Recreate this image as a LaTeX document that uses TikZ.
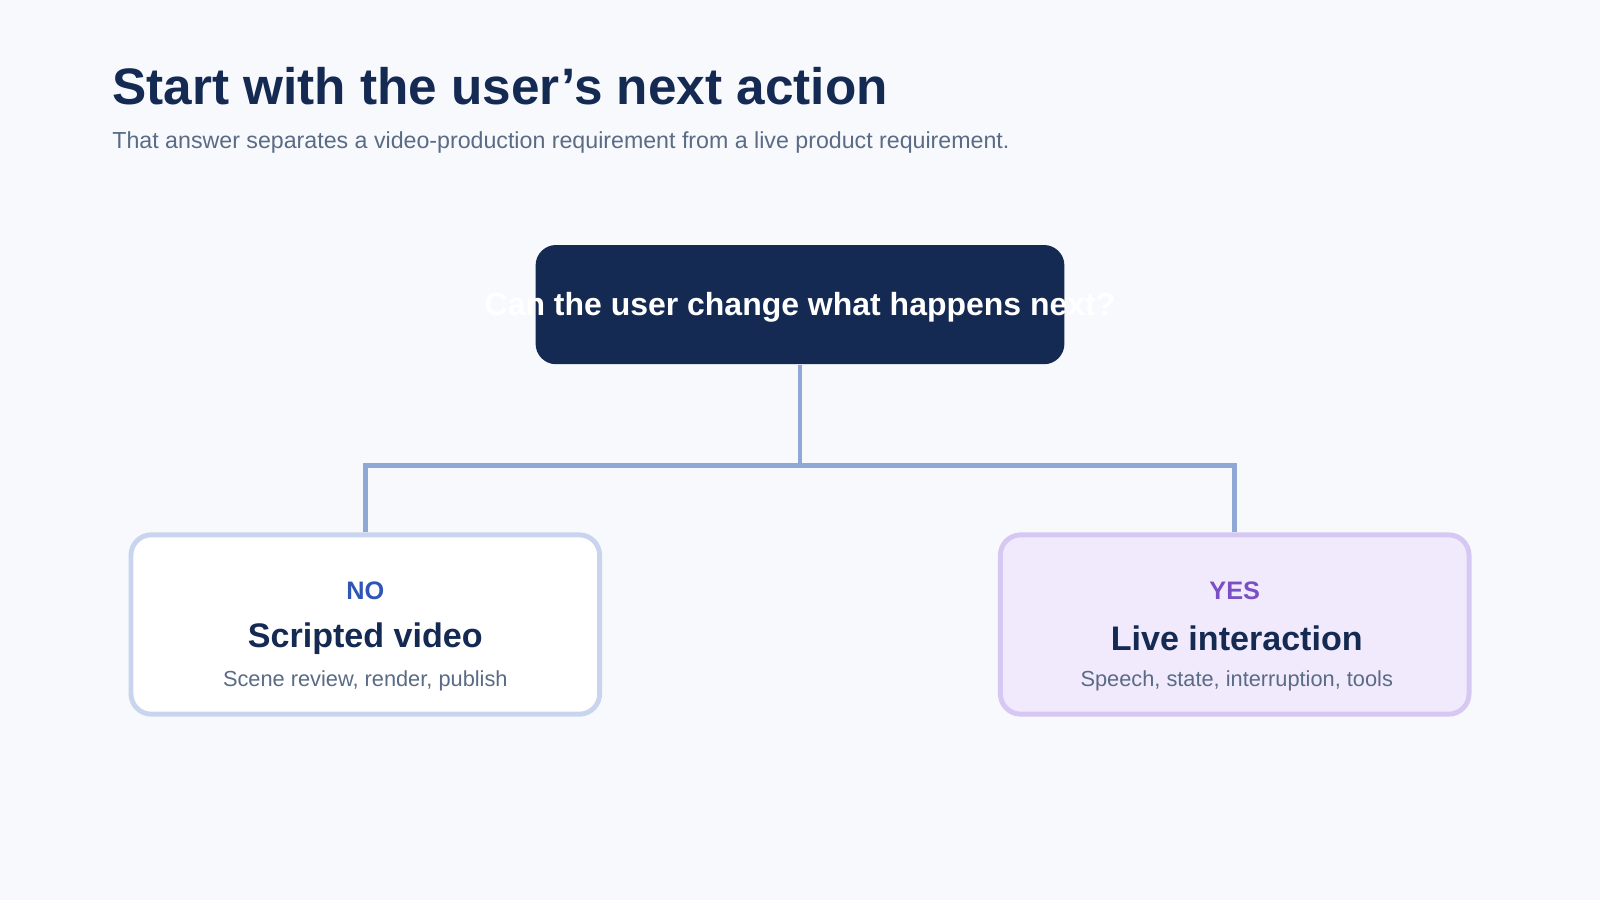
\documentclass[tikz,border=0pt]{standalone}
\usepackage{fontspec}
\setmainfont{Liberation Sans}
\begin{document}
\definecolor{bg}{HTML}{F7F9FD}
\definecolor{navy}{HTML}{142A52}
\definecolor{sub}{HTML}{5A6B85}
\definecolor{conn}{HTML}{8FA8D6}
\definecolor{noblue}{HTML}{2F55B5}
\definecolor{yespurple}{HTML}{7B4FC4}
\definecolor{rfill}{HTML}{F1EAFD}
\definecolor{rborder}{HTML}{D6C8F2}
\definecolor{lborder}{HTML}{C9D5EE}
\begin{tikzpicture}[x=0.010204cm,y=-0.010204cm,
  card/.style={rounded corners=20*0.29pt,line width=1.4pt,minimum width=460*0.29pt,minimum height=176*0.29pt},
  wire/.style={draw=conn,line width=1.3pt}]
\fill[bg] (0,0) rectangle (1568,882);
\useasboundingbox (0,0) rectangle (1568,882);
\node[anchor=base west,text=navy,font=\fontsize{14.6}{16}\selectfont\bfseries] (title) at (98,102) {Start with the user’s next action};
\node[anchor=base west,text=sub,font=\fontsize{6.6}{8}\selectfont] (subt) at (98,146) {That answer separates a video-production requirement from a live product requirement.};
\node[fill=navy,rounded corners=20*0.29pt,minimum width=519*0.29pt,minimum height=117*0.29pt] (q) at (784,298.5) {};
\node[text=white,font=\fontsize{9.1}{11}\selectfont\bfseries] (qt) at (784,301) {Can the user change what happens next?};
\node[card,draw=lborder,fill=white] (no) at (358,612) {};
\node[card,draw=rborder,fill=rfill] (yes) at (1210,612) {};
\node[text=noblue,font=\fontsize{7.2}{9}\selectfont\bfseries] at (358,579) {NO};
\node[text=navy,font=\fontsize{9.7}{11}\selectfont\bfseries] at (358,626) {Scripted video};
\node[text=sub,font=\fontsize{6.2}{8}\selectfont] at (358,667) {Scene review, render, publish};
\node[text=yespurple,font=\fontsize{7.2}{9}\selectfont\bfseries] at (1210,579) {YES};
\node[text=navy,font=\fontsize{9.7}{11}\selectfont\bfseries] at (1212,626) {Live interaction};
\node[text=sub,font=\fontsize{6.2}{8}\selectfont] at (1212,667) {Speech, state, interruption, tools};
\coordinate (j) at (784,456);
\draw[wire] (q.south) -- (j);
\draw[wire] (j) -| (no.north);
\draw[wire] (j) -| (yes.north);
\end{tikzpicture}
\end{document}
